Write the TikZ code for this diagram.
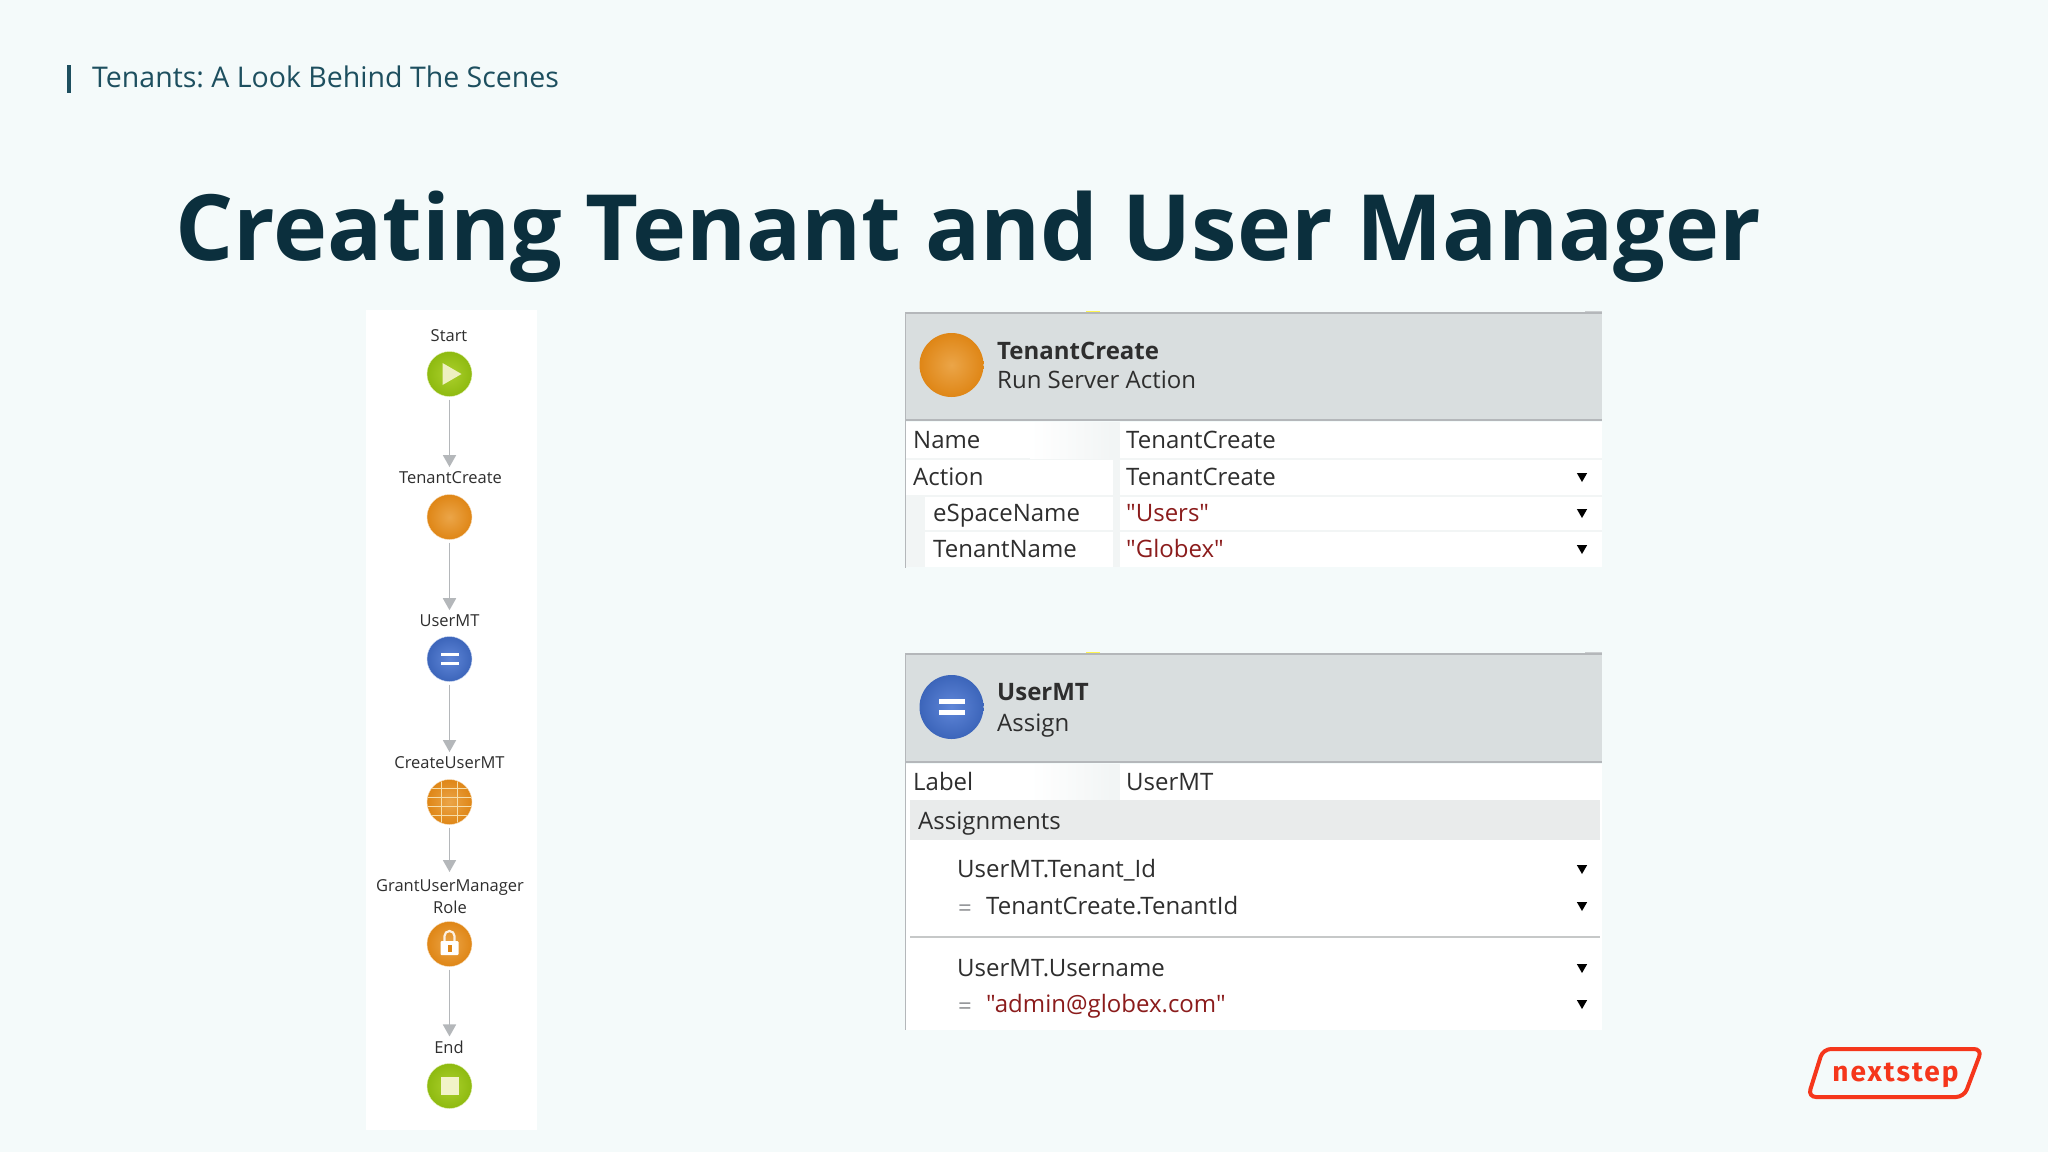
\documentclass[tikz,border=0pt]{standalone}
\usepackage{fontspec}
\usepackage{xcolor}
\setmainfont{Open Sans}
\newfontfamily\quotefont{Open Sans}
\newfontfamily\logofont[LetterSpace=7]{Fira Sans}
\definecolor{pagebg}{HTML}{F4FAFA}
\definecolor{headblue}{HTML}{1D4F5F}
\definecolor{titleink}{HTML}{0B2F3D}
\definecolor{panelgrey}{HTML}{D9DEDF}
\definecolor{bandgrey}{HTML}{E9EBEB}
\definecolor{stripgrey}{HTML}{F2F5F5}
\definecolor{lineink}{HTML}{B4B7BA}
\definecolor{cellink}{HTML}{2E2E2E}
\definecolor{stringred}{HTML}{8B1C1C}
\definecolor{logored}{HTML}{F5361B}
\definecolor{greenlight}{HTML}{ABD02C}
\definecolor{greendark}{HTML}{8EBA10}
\definecolor{orangelight}{HTML}{EBA548}
\definecolor{orangedark}{HTML}{DF8616}
\definecolor{bluelight}{HTML}{5F86D8}
\definecolor{bluedark}{HTML}{3C65BA}
\definecolor{gridcream}{HTML}{F6DDA8}
\usetikzlibrary{shapes.geometric,arrows.meta,calc}

\begin{document}
\frenchspacing
\begin{tikzpicture}[x=1pt, y=-1pt,
    flowlabel/.style={inner sep=0pt, outer sep=4pt, anchor=base, text=cellink, font=\fontsize{16.5}{22}\selectfont},
    ball/.style={circle, minimum size=45pt, inner sep=0pt, outer sep=3pt},
    greenball/.style={ball, inner color=greenlight, outer color=greendark, draw=greenlight!35!white},
    orangeball/.style={ball, inner color=orangelight, outer color=orangedark, draw=orangelight!40!white},
    blueball/.style={ball, inner color=bluelight, outer color=bluedark, draw=bluelight!35!white},
    bigball/.style={minimum size=64pt, draw=none},
    flowline/.style={draw=lineink, line width=1.8pt, -{Triangle[length=12pt,width=13pt]}},
    rowtext/.style={anchor=west, inner sep=0pt, text=cellink, text height=20pt, text depth=4pt, font=\fontsize{24}{28}\selectfont},
    redtext/.style={rowtext, text=stringred, font=\quotefont\fontsize{24}{28}\selectfont},
    headtitle/.style={rowtext, font=\fontsize{24}{28}\selectfont\bfseries},
    dropmark/.style={regular polygon, regular polygon sides=3, shape border rotate=180, fill=black, inner sep=0pt, minimum size=12pt, yshift=1pt}]

    \fill[pagebg] (0,0) rectangle (2048,1152);
    \useasboundingbox (0,0) rectangle (2048,1152);

    \fill[headblue] (67,65) rectangle (71,93);
    \node[anchor=base west, inner sep=0pt, text=headblue, font=\fontsize{28.5}{36}\selectfont] (subject) at (92,87) {Tenants: A Look Behind The Scenes};
    \node[anchor=base west, inner sep=0pt, text=titleink, font=\fontsize{91.5}{110}\selectfont\bfseries] (title) at (175,260) {Creating Tenant and User Manager};

    \fill[white] (366,310) rectangle (537,1130);

    \node[greenball] (start) at (449.5,374) {};
    \node[orangeball] (tenantcreate) at (449.5,517) {};
    \node[blueball] (usermt) at (449.5,659) {};
    \node[orangeball] (createusermt) at (449.5,802) {};
    \node[orangeball] (grantrole) at (449.5,944) {};
    \node[greenball] (finish) at (449.5,1086) {};

    \node[flowlabel] (startlabel) at (449,341) {Start};
    \node[flowlabel] (tenantlabel) at (450.5,483) {TenantCreate};
    \node[flowlabel] (userlabel) at (449.5,626) {UserMT};
    \node[flowlabel] (createlabel) at (449.5,768) {CreateUserMT};
    \node[flowlabel, anchor=north, align=center, outer sep=8pt] (grantlabel) at (450,872) {GrantUserManager\\Role};
    \node[flowlabel] (endlabel) at (449,1053) {End};

    \draw[flowline] (start) -- (start |- tenantlabel.north);
    \draw[flowline] (tenantcreate) -- (tenantcreate |- userlabel.north);
    \draw[flowline] (usermt) -- (usermt |- createlabel.north);
    \draw[flowline] (createusermt) -- (createusermt |- grantlabel.north);
    \draw[flowline] (grantrole) -- (grantrole |- endlabel.north);

    \fill[yellow!25!greenlight!30!white] ($(start)+(-7,-11)$) -- ($(start)+(12,0)$) -- ($(start)+(-7,11)$) -- cycle;
    \fill[white] ($(usermt)+(-9,-6)$) rectangle ($(usermt)+(9,-3)$);
    \fill[white] ($(usermt)+(-9,3)$) rectangle ($(usermt)+(9,6)$);

    \begin{scope}
        \clip (createusermt) circle (22pt);
        \draw[gridcream, line width=1pt] ($(createusermt)+(-25,-14)$) -- ($(createusermt)+(25,-14)$);
        \draw[gridcream, line width=1pt] ($(createusermt)+(-25,-5)$) -- ($(createusermt)+(25,-5)$);
        \draw[gridcream, line width=1pt] ($(createusermt)+(-25,4)$) -- ($(createusermt)+(25,4)$);
        \draw[gridcream, line width=1pt] ($(createusermt)+(-25,13)$) -- ($(createusermt)+(25,13)$);
        \draw[gridcream, line width=1pt] ($(createusermt)+(-8,-25)$) -- ($(createusermt)+(-8,25)$);
        \draw[gridcream, line width=1pt] ($(createusermt)+(8,-25)$) -- ($(createusermt)+(8,25)$);
    \end{scope}

    \draw[white!85!orangelight, line width=2.2pt] ($(grantrole)+(-5,-3)$) -- ($(grantrole)+(-5,-8)$) arc[start angle=180, end angle=0, radius=5pt] -- ($(grantrole)+(5,-3)$);
    \fill[white, rounded corners=1pt] ($(grantrole)+(-9,-3)$) rectangle ($(grantrole)+(9,11)$);
    \fill[orangedark] ($(grantrole)+(-2,1)$) rectangle ($(grantrole)+(2,8)$);

    \fill[yellow!30!greenlight!25!white] ($(finish)+(-9,-9)$) rectangle ($(finish)+(9,9)$);

    \fill[yellow!70!white] (1086,311) rectangle (1100,314);
    \fill[lineink!70!white] (1585,311) rectangle (1602,314);
    \fill[panelgrey] (905,313) rectangle (1602,420);
    \draw[lineink, line width=1.5pt] (905,313) -- (1602,313);
    \draw[lineink, line width=1.5pt] (905,420) -- (1602,420);
    \fill[white] (905,422) rectangle (1602,567);
    \fill[stripgrey] (905,458) rectangle (1602,460);
    \fill[stripgrey] (905,495) rectangle (1602,497);
    \fill[stripgrey] (905,530) rectangle (1602,532);
    \fill[stripgrey] (1113,422) rectangle (1120,567);
    \fill[stripgrey] (906,497) rectangle (925,567);
    \fill[left color=white, right color=stripgrey] (1030,422) rectangle (1113,458);
    \draw[lineink, line width=1pt] (905,313) -- (905,568);

    \node[orangeball, bigball] (tenantbig) at (951.5,365) {};
    \node[headtitle] (tenanttitle) at (997,351) {TenantCreate};
    \node[rowtext] (tenantkind) at (997,380) {Run Server Action};
    \node[rowtext] (namekey) at (913,440) {Name};
    \node[rowtext] (nameval) at (1126,440) {TenantCreate};
    \node[rowtext] (actionkey) at (913,477) {Action};
    \node[rowtext] (actionval) at (1126,477) {TenantCreate};
    \node[rowtext] (spacekey) at (933,513) {eSpaceName};
    \node[redtext] (spaceval) at (1126,513) {"Users"};
    \node[rowtext] (tnamekey) at (933,549) {TenantName};
    \node[redtext] (tnameval) at (1126,549) {"Globex"};
    \node[dropmark] (actionmark) at (1582,477) {};
    \node[dropmark] (spacemark) at (1582,513) {};
    \node[dropmark] (tnamemark) at (1582,549) {};

    \fill[yellow!70!white] (1086,652) rectangle (1100,655);
    \fill[lineink!70!white] (1585,652) rectangle (1602,655);
    \fill[panelgrey] (905,654) rectangle (1602,762);
    \draw[lineink, line width=1.5pt] (905,654) -- (1602,654);
    \draw[lineink, line width=1.5pt] (905,762) -- (1602,762);
    \fill[white] (905,764) rectangle (1602,1030);
    \fill[stripgrey] (1113,764) rectangle (1120,800);
    \fill[left color=white, right color=stripgrey] (1030,764) rectangle (1113,800);
    \fill[bandgrey] (910,800) rectangle (1600,840);
    \draw[bandgrey!85!black, line width=1.5pt] (910,937) -- (1600,937);
    \draw[lineink, line width=1pt] (905,654) -- (905,1030);

    \node[blueball, bigball] (userbig) at (951.5,707) {};
    \fill[white] ($(userbig)+(-13,-8)$) rectangle ($(userbig)+(13,-3)$);
    \fill[white] ($(userbig)+(-13,3)$) rectangle ($(userbig)+(13,8)$);
    \node[headtitle] (usertitle) at (997,692) {UserMT};
    \node[rowtext] (userkind) at (997,723) {Assign};
    \node[rowtext] (labelkey) at (913,782) {Label};
    \node[rowtext] (labelval) at (1126,782) {UserMT};
    \node[rowtext] (assignments) at (918,821) {Assignments};
    \node[rowtext] (tenantid) at (957,869) {UserMT.Tenant\_Id};
    \node[rowtext, text=lineink!80!black] (equalone) at (958,908) {=};
    \node[rowtext] (tenantidval) at (986,906) {TenantCreate.TenantId};
    \node[rowtext] (username) at (957,968) {UserMT.Username};
    \node[rowtext, text=lineink!80!black] (equaltwo) at (958,1006) {=};
    \node[redtext] (usernameval) at (986,1004) {"admin@globex.com"};
    \node[dropmark] (tenantidmark) at (1582,869) {};
    \node[dropmark] (tenantvalmark) at (1582,906) {};
    \node[dropmark] (usernamemark) at (1582,968) {};
    \node[dropmark] (usernvalmark) at (1582,1004) {};

    \draw[logored, line width=4pt, rounded corners=8pt] (1823,1049) -- (1982,1049) -- (1964,1097) -- (1808,1097) -- cycle;
    \node[text=logored, inner sep=0pt, font=\logofont\fontsize{28}{30}\selectfont\bfseries] (logo) at (1895.5,1075) {nextstep};
\end{tikzpicture}
\end{document}
